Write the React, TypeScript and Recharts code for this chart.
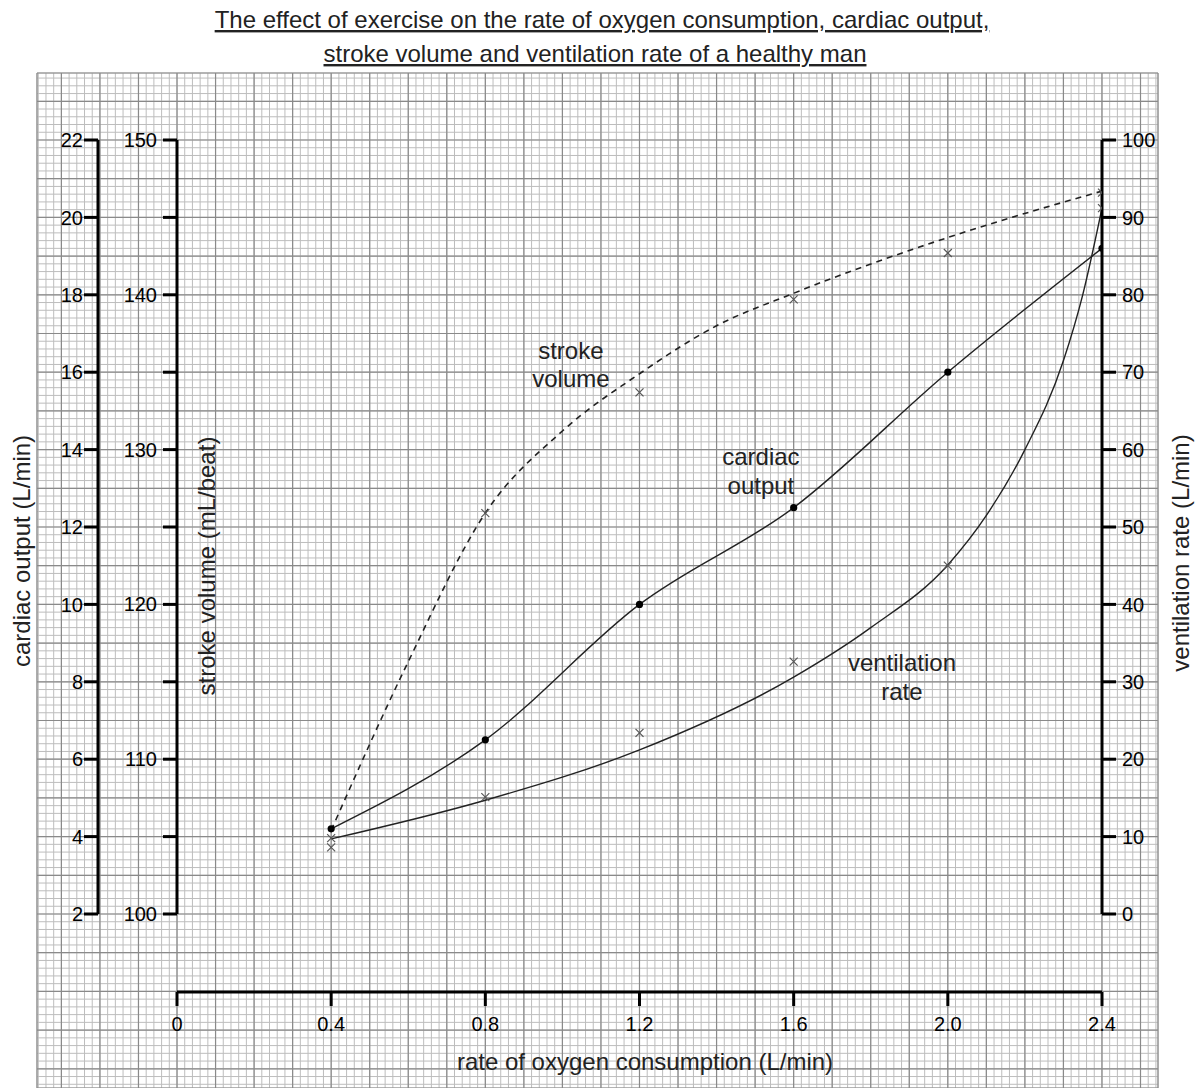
import React from 'react';
import { ComposedChart, Line, XAxis, YAxis, CartesianGrid, ReferenceDot } from 'recharts';

const FONT = '"Liberation Sans", Arial, Helvetica, sans-serif';
const W = 1201;
const H = 1088;

// measured points (rate of O2 consumption, L/min)
const O2_RATE = [0.4, 0.8, 1.2, 1.6, 2.0, 2.4];
const CARDIAC_OUTPUT = [4.2, 6.5, 10.0, 12.5, 16.0, 19.2];
const STROKE_VOLUME = [104.3, 125.9, 133.7, 139.7, 142.7, 146.6];
const VENTILATION = [9.8, 15.1, 23.4, 32.6, 45.0, 91.2];

// hand drawn best-fit curves, read along their length
const SV_CURVE_X = [0.4, 0.6, 0.8, 1.0, 1.2, 1.4, 1.6, 2.0, 2.4];
const SV_CURVE = [105.4, 116.3, 125.9, 131.2, 134.9, 138.0, 140.1, 143.7, 146.7];
const VENT_CURVE_X = [0.4, 0.8, 1.2, 1.6, 1.8, 2.0, 2.1, 2.2, 2.3, 2.35, 2.4];
const VENT_CURVE = [9.7, 14.7, 21.2, 30.6, 37.0, 45.1, 51.5, 60.0, 71.5, 80.0, 91.2];

// axis ticks
const X_TICKS = [0, 0.4, 0.8, 1.2, 1.6, 2.0, 2.4];
const CO_TICKS = [2, 4, 6, 8, 10, 12, 14, 16, 18, 20, 22];
const SV_TICKS = [100, 105, 110, 115, 120, 125, 130, 135, 140, 145, 150];
const VENT_TICKS = [0, 10, 20, 30, 40, 50, 60, 70, 80, 90, 100];

// curve labels (x in L/min, y on the cardiac output scale)
const NOTES = [
  { text: 'stroke', x: 1.022, y: 16.57 },
  { text: 'volume', x: 1.022, y: 15.85 },
  { text: 'cardiac', x: 1.515, y: 13.81 },
  { text: 'output', x: 1.515, y: 13.08 },
  { text: 'ventilation', x: 1.881, y: 8.51 },
  { text: 'rate', x: 1.881, y: 7.76 },
];

const zip = (xs: number[], ys: number[]) => xs.map((x, i) => ({ x, y: ys[i] }));
const coPoints = zip(O2_RATE, CARDIAC_OUTPUT);
const svPoints = zip(O2_RATE, STROKE_VOLUME);
const ventPoints = zip(O2_RATE, VENTILATION);
const svCurve = zip(SV_CURVE_X, SV_CURVE);
const ventCurve = zip(VENT_CURVE_X, VENT_CURVE);

// graph paper: 2 mm squares, 1 cm = 0.1 L/min or 1 L/min of cardiac output
const range = (from: number, to: number, step: number) => {
  const out: number[] = [];
  for (let k = from; k <= to; k++) out.push(Number((k * step).toFixed(3)));
  return out;
};
const PAPER_X: [number, number] = [-0.3633, 2.5454];
const PAPER_Y: [number, number] = [-2.496, 23.731];
const MINOR_X = range(-18, 127, 0.02);
const MAJOR_X = range(-3, 25, 0.1);
const MINOR_Y = range(-12, 118, 0.2);
const MAJOR_Y = range(-2, 23, 1);
const paperEdges = [
  { x: PAPER_X[0], y: PAPER_Y[0] },
  { x: PAPER_X[1], y: PAPER_Y[1] },
];

const axisStroke = { stroke: '#000', strokeWidth: 3 };
const tickFont = { fontSize: 20, fill: '#000', fontFamily: FONT };

const Cross = ({ cx, cy }: any) => (
  <g stroke="#555" strokeWidth={1.2}>
    <line x1={cx - 4} y1={cy - 4} x2={cx + 4} y2={cy + 4} />
    <line x1={cx - 4} y1={cy + 4} x2={cx + 4} y2={cy - 4} />
  </g>
);

const SvTick = ({ x, y, payload }: any) =>
  payload.value % 10 === 0 ? (
    <text x={x} y={y} dy={7} textAnchor="end" {...tickFont}>
      {payload.value}
    </text>
  ) : (
    <g />
  );

function Paper() {
  return (
    <ComposedChart width={W} height={H} data={paperEdges} margin={{ top: 73, left: 37, right: 43, bottom: 0 }}>
      <XAxis xAxisId="minor" dataKey="x" type="number" domain={PAPER_X} allowDataOverflow ticks={MINOR_X} interval={0} hide />
      <XAxis xAxisId="major" dataKey="x" type="number" domain={PAPER_X} allowDataOverflow ticks={MAJOR_X} interval={0} hide />
      <YAxis yAxisId="minor" dataKey="y" type="number" domain={PAPER_Y} allowDataOverflow ticks={MINOR_Y} interval={0} hide />
      <YAxis yAxisId="major" dataKey="y" type="number" domain={PAPER_Y} allowDataOverflow ticks={MAJOR_Y} interval={0} hide />
      <CartesianGrid xAxisId="minor" yAxisId="minor" stroke="#bdbdbd" strokeWidth={1} />
      <CartesianGrid xAxisId="major" yAxisId="major" stroke="#8a8a8a" strokeWidth={1.2} />
    </ComposedChart>
  );
}

function Plot() {
  return (
    <ComposedChart width={W} height={H} margin={{ top: 140, left: 0, right: 0, bottom: 36 }}>
      <XAxis
        xAxisId="b_main"
        type="number"
        dataKey="x"
        domain={[0, 2.4]}
        allowDataOverflow
        ticks={X_TICKS}
        interval={0}
        height={60}
        tickSize={14}
        tickMargin={11}
        tickFormatter={(v: number) => (v === 0 ? '0' : v.toFixed(1))}
        tick={tickFont}
        axisLine={axisStroke}
        tickLine={axisStroke}
      />
      <XAxis xAxisId="a_spacer" type="number" domain={[0, 2.4]} height={78} tick={false} axisLine={false} tickLine={false} />
      <YAxis
        yAxisId="b_co"
        orientation="left"
        type="number"
        domain={[2, 22]}
        allowDataOverflow
        ticks={CO_TICKS}
        interval={0}
        width={98}
        tickSize={14}
        tickMargin={1}
        tick={tickFont}
        axisLine={axisStroke}
        tickLine={axisStroke}
      />
      <YAxis
        yAxisId="a_sv"
        orientation="left"
        type="number"
        domain={[100, 150]}
        allowDataOverflow
        ticks={SV_TICKS}
        interval={0}
        width={79}
        tickSize={14}
        tickMargin={6}
        tick={<SvTick />}
        axisLine={axisStroke}
        tickLine={axisStroke}
      />
      <YAxis
        yAxisId="vent"
        orientation="right"
        type="number"
        domain={[0, 100]}
        allowDataOverflow
        ticks={VENT_TICKS}
        interval={0}
        width={99}
        tickSize={14}
        tickMargin={6}
        tick={tickFont}
        axisLine={axisStroke}
        tickLine={axisStroke}
      />

      <Line xAxisId="b_main" yAxisId="a_sv" data={svCurve} dataKey="y" type="monotone" stroke="#222" strokeWidth={1.6} strokeDasharray="6 5" dot={false} isAnimationActive={false} />
      <Line xAxisId="b_main" yAxisId="b_co" data={coPoints} dataKey="y" type="monotone" stroke="#222" strokeWidth={1.4} dot={false} isAnimationActive={false} />
      <Line xAxisId="b_main" yAxisId="vent" data={ventCurve} dataKey="y" type="monotone" stroke="#222" strokeWidth={1.4} dot={false} isAnimationActive={false} />

      <Line xAxisId="b_main" yAxisId="a_sv" data={svPoints} dataKey="y" stroke="none" dot={(p: any) => <Cross key={p.index} cx={p.cx} cy={p.cy} />} activeDot={false} isAnimationActive={false} />
      <Line xAxisId="b_main" yAxisId="vent" data={ventPoints} dataKey="y" stroke="none" dot={(p: any) => <Cross key={p.index} cx={p.cx} cy={p.cy} />} activeDot={false} isAnimationActive={false} />
      <Line xAxisId="b_main" yAxisId="b_co" data={coPoints} dataKey="y" stroke="none" dot={{ r: 3.6, fill: '#000', stroke: 'none' }} activeDot={false} isAnimationActive={false} />

      {NOTES.map((n) => (
        <ReferenceDot
          key={n.text}
          xAxisId="b_main"
          yAxisId="b_co"
          x={n.x}
          y={n.y}
          r={0}
          fill="none"
          stroke="none"
          label={{ value: n.text, position: 'center', fontSize: 24, fill: '#222', fontFamily: FONT }}
        />
      ))}
    </ComposedChart>
  );
}

export default function App() {
  const layer: React.CSSProperties = { position: 'absolute', left: 0, top: 0 };
  const txt = { fontFamily: FONT, fontSize: 24, fill: '#222' };
  return (
    <div style={{ position: 'absolute', left: 0, top: 0, width: W, height: H, background: '#fff' }}>
      <div style={layer}>
        <Paper />
      </div>
      <div style={layer}>
        <Plot />
      </div>
      <svg style={{ ...layer, pointerEvents: 'none' }} width={W} height={H}>
        <text x={602} y={28} textAnchor="middle" textDecoration="underline" {...txt}>
          The effect of exercise on the rate of oxygen consumption, cardiac output,
        </text>
        <text x={595} y={62} textAnchor="middle" textDecoration="underline" {...txt}>
          stroke volume and ventilation rate of a healthy man
        </text>
        <text x={645} y={1070} textAnchor="middle" {...txt}>
          rate of oxygen consumption (L/min)
        </text>
        <text x={30} y={551} textAnchor="middle" transform="rotate(-90 30 551)" {...txt}>
          cardiac output (L/min)
        </text>
        <text x={215} y={566} textAnchor="middle" transform="rotate(-90 215 566)" {...txt}>
          stroke volume (mL/beat)
        </text>
        <text x={1189} y={553} textAnchor="middle" transform="rotate(-90 1189 553)" {...txt}>
          ventilation rate (L/min)
        </text>
      </svg>
    </div>
  );
}
